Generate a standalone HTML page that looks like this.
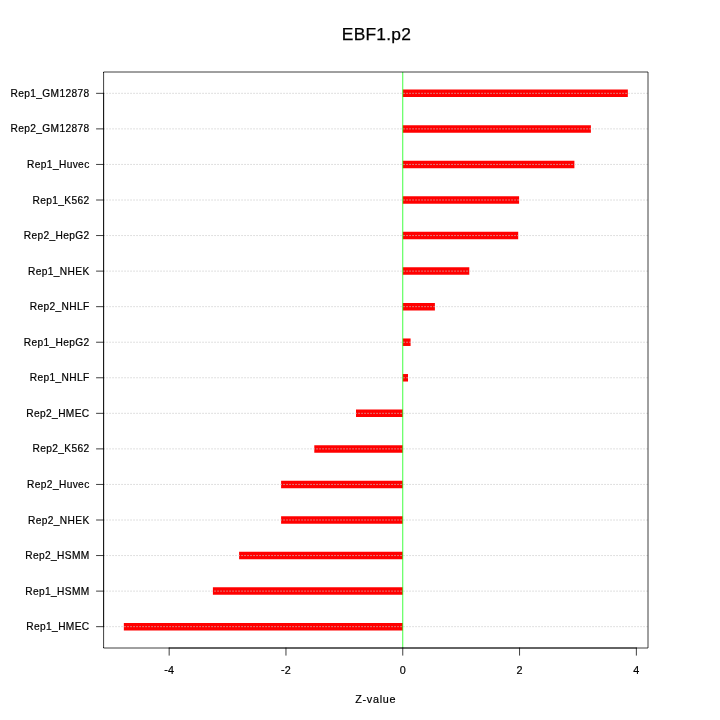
<!DOCTYPE html>
<html><head><meta charset="utf-8"><title>EBF1.p2</title>
<style>
html,body{margin:0;padding:0;background:#fff;}
svg{display:block;}
text{font-family:"Liberation Sans",sans-serif;fill:#000;}
.ax{font-size:10.2px;letter-spacing:0.36px;stroke:#000;stroke-width:0.2px;}
.ttl{font-size:17.4px;letter-spacing:0.25px;stroke:#000;stroke-width:0.25px;}
</style></head><body>
<svg width="720" height="720" viewBox="0 0 720 720">
<rect width="720" height="720" fill="#fff"/>
<text class="ttl" x="376.5" y="40" text-anchor="middle">EBF1.p2</text>
<line x1="402.76" y1="93.33" x2="627.84" y2="93.33" stroke="#ff0000" stroke-width="7.5"/>
<line x1="402.76" y1="128.89" x2="590.90" y2="128.89" stroke="#ff0000" stroke-width="7.5"/>
<line x1="402.76" y1="164.44" x2="574.40" y2="164.44" stroke="#ff0000" stroke-width="7.5"/>
<line x1="402.76" y1="200.00" x2="519.10" y2="200.00" stroke="#ff0000" stroke-width="7.5"/>
<line x1="402.76" y1="235.56" x2="518.20" y2="235.56" stroke="#ff0000" stroke-width="7.5"/>
<line x1="402.76" y1="271.11" x2="469.30" y2="271.11" stroke="#ff0000" stroke-width="7.5"/>
<line x1="402.76" y1="306.67" x2="434.90" y2="306.67" stroke="#ff0000" stroke-width="7.5"/>
<line x1="402.76" y1="342.22" x2="410.60" y2="342.22" stroke="#ff0000" stroke-width="7.5"/>
<line x1="402.76" y1="377.78" x2="408.00" y2="377.78" stroke="#ff0000" stroke-width="7.5"/>
<line x1="356.00" y1="413.33" x2="402.76" y2="413.33" stroke="#ff0000" stroke-width="7.5"/>
<line x1="314.30" y1="448.89" x2="402.76" y2="448.89" stroke="#ff0000" stroke-width="7.5"/>
<line x1="281.10" y1="484.44" x2="402.76" y2="484.44" stroke="#ff0000" stroke-width="7.5"/>
<line x1="281.10" y1="520.00" x2="402.76" y2="520.00" stroke="#ff0000" stroke-width="7.5"/>
<line x1="239.10" y1="555.56" x2="402.76" y2="555.56" stroke="#ff0000" stroke-width="7.5"/>
<line x1="212.90" y1="591.11" x2="402.76" y2="591.11" stroke="#ff0000" stroke-width="7.5"/>
<line x1="123.84" y1="626.67" x2="402.76" y2="626.67" stroke="#ff0000" stroke-width="7.5"/>
<line x1="103.68" y1="93.33" x2="648.00" y2="93.33" stroke="#cacaca" stroke-width="0.75" stroke-dasharray="0.75 2.25" stroke-linecap="round"/>
<line x1="103.68" y1="128.89" x2="648.00" y2="128.89" stroke="#cacaca" stroke-width="0.75" stroke-dasharray="0.75 2.25" stroke-linecap="round"/>
<line x1="103.68" y1="164.44" x2="648.00" y2="164.44" stroke="#cacaca" stroke-width="0.75" stroke-dasharray="0.75 2.25" stroke-linecap="round"/>
<line x1="103.68" y1="200.00" x2="648.00" y2="200.00" stroke="#cacaca" stroke-width="0.75" stroke-dasharray="0.75 2.25" stroke-linecap="round"/>
<line x1="103.68" y1="235.56" x2="648.00" y2="235.56" stroke="#cacaca" stroke-width="0.75" stroke-dasharray="0.75 2.25" stroke-linecap="round"/>
<line x1="103.68" y1="271.11" x2="648.00" y2="271.11" stroke="#cacaca" stroke-width="0.75" stroke-dasharray="0.75 2.25" stroke-linecap="round"/>
<line x1="103.68" y1="306.67" x2="648.00" y2="306.67" stroke="#cacaca" stroke-width="0.75" stroke-dasharray="0.75 2.25" stroke-linecap="round"/>
<line x1="103.68" y1="342.22" x2="648.00" y2="342.22" stroke="#cacaca" stroke-width="0.75" stroke-dasharray="0.75 2.25" stroke-linecap="round"/>
<line x1="103.68" y1="377.78" x2="648.00" y2="377.78" stroke="#cacaca" stroke-width="0.75" stroke-dasharray="0.75 2.25" stroke-linecap="round"/>
<line x1="103.68" y1="413.33" x2="648.00" y2="413.33" stroke="#cacaca" stroke-width="0.75" stroke-dasharray="0.75 2.25" stroke-linecap="round"/>
<line x1="103.68" y1="448.89" x2="648.00" y2="448.89" stroke="#cacaca" stroke-width="0.75" stroke-dasharray="0.75 2.25" stroke-linecap="round"/>
<line x1="103.68" y1="484.44" x2="648.00" y2="484.44" stroke="#cacaca" stroke-width="0.75" stroke-dasharray="0.75 2.25" stroke-linecap="round"/>
<line x1="103.68" y1="520.00" x2="648.00" y2="520.00" stroke="#cacaca" stroke-width="0.75" stroke-dasharray="0.75 2.25" stroke-linecap="round"/>
<line x1="103.68" y1="555.56" x2="648.00" y2="555.56" stroke="#cacaca" stroke-width="0.75" stroke-dasharray="0.75 2.25" stroke-linecap="round"/>
<line x1="103.68" y1="591.11" x2="648.00" y2="591.11" stroke="#cacaca" stroke-width="0.75" stroke-dasharray="0.75 2.25" stroke-linecap="round"/>
<line x1="103.68" y1="626.67" x2="648.00" y2="626.67" stroke="#cacaca" stroke-width="0.75" stroke-dasharray="0.75 2.25" stroke-linecap="round"/>
<line x1="402.76" y1="72.0" x2="402.76" y2="648.0" stroke="#00ff00" stroke-width="0.75"/>
<rect x="103.6" y="72.0" width="544.4" height="576.0" fill="none" stroke="#000" stroke-width="0.75" stroke-linejoin="round"/>
<rect x="103" y="72" width="1" height="1" fill="#000" opacity="0.7"/>
<rect x="103" y="647" width="1" height="1" fill="#000" opacity="0.6"/>
<line x1="103.6" y1="93.33" x2="103.6" y2="626.67" stroke="#000" stroke-width="0.75" stroke-linecap="round"/>
<line x1="96.48" y1="93.33" x2="103.68" y2="93.33" stroke="#000" stroke-width="0.75" stroke-linecap="round"/>
<text class="ax" x="89.6" y="96.83" text-anchor="end">Rep1_GM12878</text>
<line x1="96.48" y1="128.89" x2="103.68" y2="128.89" stroke="#000" stroke-width="0.75" stroke-linecap="round"/>
<text class="ax" x="89.6" y="132.39" text-anchor="end">Rep2_GM12878</text>
<line x1="96.48" y1="164.44" x2="103.68" y2="164.44" stroke="#000" stroke-width="0.75" stroke-linecap="round"/>
<text class="ax" x="89.6" y="167.94" text-anchor="end">Rep1_Huvec</text>
<line x1="96.48" y1="200.00" x2="103.68" y2="200.00" stroke="#000" stroke-width="0.75" stroke-linecap="round"/>
<text class="ax" x="89.6" y="203.50" text-anchor="end">Rep1_K562</text>
<line x1="96.48" y1="235.56" x2="103.68" y2="235.56" stroke="#000" stroke-width="0.75" stroke-linecap="round"/>
<text class="ax" x="89.6" y="239.06" text-anchor="end">Rep2_HepG2</text>
<line x1="96.48" y1="271.11" x2="103.68" y2="271.11" stroke="#000" stroke-width="0.75" stroke-linecap="round"/>
<text class="ax" x="89.6" y="274.61" text-anchor="end">Rep1_NHEK</text>
<line x1="96.48" y1="306.67" x2="103.68" y2="306.67" stroke="#000" stroke-width="0.75" stroke-linecap="round"/>
<text class="ax" x="89.6" y="310.17" text-anchor="end">Rep2_NHLF</text>
<line x1="96.48" y1="342.22" x2="103.68" y2="342.22" stroke="#000" stroke-width="0.75" stroke-linecap="round"/>
<text class="ax" x="89.6" y="345.72" text-anchor="end">Rep1_HepG2</text>
<line x1="96.48" y1="377.78" x2="103.68" y2="377.78" stroke="#000" stroke-width="0.75" stroke-linecap="round"/>
<text class="ax" x="89.6" y="381.28" text-anchor="end">Rep1_NHLF</text>
<line x1="96.48" y1="413.33" x2="103.68" y2="413.33" stroke="#000" stroke-width="0.75" stroke-linecap="round"/>
<text class="ax" x="89.6" y="416.83" text-anchor="end">Rep2_HMEC</text>
<line x1="96.48" y1="448.89" x2="103.68" y2="448.89" stroke="#000" stroke-width="0.75" stroke-linecap="round"/>
<text class="ax" x="89.6" y="452.39" text-anchor="end">Rep2_K562</text>
<line x1="96.48" y1="484.44" x2="103.68" y2="484.44" stroke="#000" stroke-width="0.75" stroke-linecap="round"/>
<text class="ax" x="89.6" y="487.94" text-anchor="end">Rep2_Huvec</text>
<line x1="96.48" y1="520.00" x2="103.68" y2="520.00" stroke="#000" stroke-width="0.75" stroke-linecap="round"/>
<text class="ax" x="89.6" y="523.50" text-anchor="end">Rep2_NHEK</text>
<line x1="96.48" y1="555.56" x2="103.68" y2="555.56" stroke="#000" stroke-width="0.75" stroke-linecap="round"/>
<text class="ax" x="89.6" y="559.06" text-anchor="end">Rep2_HSMM</text>
<line x1="96.48" y1="591.11" x2="103.68" y2="591.11" stroke="#000" stroke-width="0.75" stroke-linecap="round"/>
<text class="ax" x="89.6" y="594.61" text-anchor="end">Rep1_HSMM</text>
<line x1="96.48" y1="626.67" x2="103.68" y2="626.67" stroke="#000" stroke-width="0.75" stroke-linecap="round"/>
<text class="ax" x="89.6" y="630.17" text-anchor="end">Rep1_HMEC</text>
<line x1="169.16" y1="648.0" x2="636.36" y2="648.0" stroke="#000" stroke-width="0.75" stroke-linecap="round"/>
<line x1="169.16" y1="648.0" x2="169.16" y2="655.2" stroke="#000" stroke-width="0.75" stroke-linecap="round"/>
<text class="ax" style="font-size:10.8px;letter-spacing:0.2px" x="169.26" y="673.9" text-anchor="middle"><tspan dy="-1">-</tspan><tspan dy="1">4</tspan></text>
<line x1="285.96" y1="648.0" x2="285.96" y2="655.2" stroke="#000" stroke-width="0.75" stroke-linecap="round"/>
<text class="ax" style="font-size:10.8px;letter-spacing:0.2px" x="286.06" y="673.9" text-anchor="middle"><tspan dy="-1">-</tspan><tspan dy="1">2</tspan></text>
<line x1="402.76" y1="648.0" x2="402.76" y2="655.2" stroke="#000" stroke-width="0.75" stroke-linecap="round"/>
<text class="ax" style="font-size:10.8px;letter-spacing:0.2px" x="402.86" y="673.9" text-anchor="middle">0</text>
<line x1="519.56" y1="648.0" x2="519.56" y2="655.2" stroke="#000" stroke-width="0.75" stroke-linecap="round"/>
<text class="ax" style="font-size:10.8px;letter-spacing:0.2px" x="519.66" y="673.9" text-anchor="middle">2</text>
<line x1="636.36" y1="648.0" x2="636.36" y2="655.2" stroke="#000" stroke-width="0.75" stroke-linecap="round"/>
<text class="ax" style="font-size:10.8px;letter-spacing:0.2px" x="636.46" y="673.9" text-anchor="middle">4</text>
<text class="ax" style="font-size:10.8px;letter-spacing:0.72px" x="375.75" y="702.8" text-anchor="middle">Z-value</text>
</svg></body></html>
